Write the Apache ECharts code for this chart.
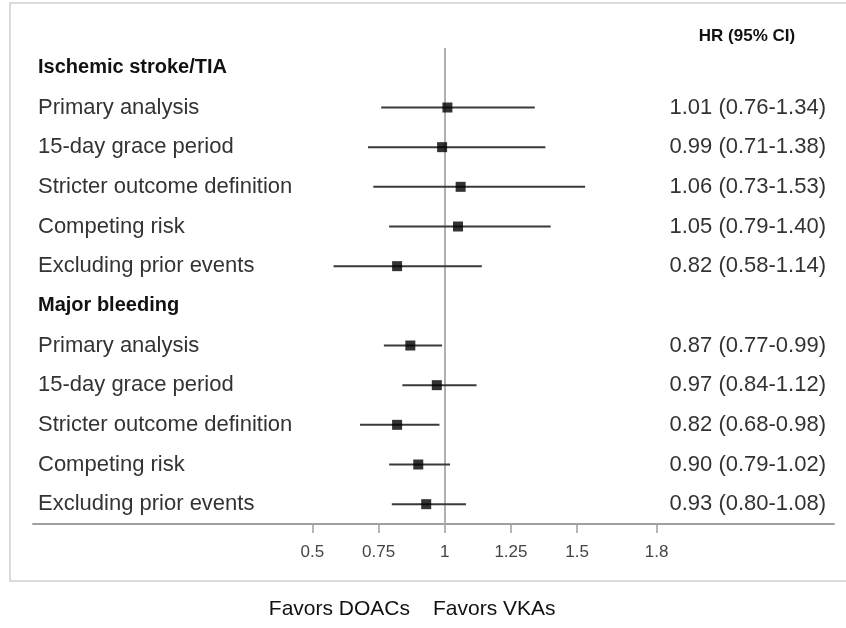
<!DOCTYPE html>
<html>
<head>
<meta charset="utf-8">
<script src="https://cdn.jsdelivr.net/npm/echarts@6/dist/echarts.min.js"></script>
<style>
html,body{margin:0;padding:0;background:#fff;}
#chart{width:846px;height:628px;}
</style>
</head>
<body>
<div id="chart"></div>
<script>
const rowLabels = [
  'Ischemic stroke/TIA',
  'Primary analysis',
  '15-day grace period',
  'Stricter outcome definition',
  'Competing risk',
  'Excluding prior events',
  'Major bleeding',
  'Primary analysis',
  '15-day grace period',
  'Stricter outcome definition',
  'Competing risk',
  'Excluding prior events'
];
const headerRows = [0, 6];
const hrValues = [null, 1.01, 0.99, 1.06, 1.05, 0.82, null, 0.87, 0.97, 0.82, 0.90, 0.93];
const ciLow    = [null, 0.76, 0.71, 0.73, 0.79, 0.58, null, 0.77, 0.84, 0.68, 0.79, 0.80];
const ciHigh   = [null, 1.34, 1.38, 1.53, 1.40, 1.14, null, 0.99, 1.12, 0.98, 1.02, 1.08];
const xTickValues = [0.5, 0.75, 1, 1.25, 1.5, 1.8];
const columnHeader = 'HR (95% CI)';
const favorsLeft = 'Favors DOACs';
const favorsRight = 'Favors VKAs';

const rightLabels = hrValues.map((v, i) =>
  v == null ? '' : v.toFixed(2) + ' (' + ciLow[i].toFixed(2) + '-' + ciHigh[i].toFixed(2) + ')');

const pointData = [];
const ciData = [];
hrValues.forEach((v, i) => {
  if (v != null) {
    pointData.push([v, i]);
    ciData.push([ciLow[i], i, ciHigh[i]]);
  }
});

const chart = echarts.init(document.getElementById('chart'));
const FONT = "'Liberation Sans', Arial, sans-serif";

chart.setOption({
  backgroundColor: '#fff',
  animation: false,
  grid: { left: 33, right: 12, top: 48, bottom: 104 },
  xAxis: {
    type: 'value',
    min: -0.555,
    max: 2.47,
    axisLine: { show: true, lineStyle: { color: '#a0a0a0', width: 2 } },
    axisTick: { show: true, customValues: xTickValues, length: 9, lineStyle: { color: '#a0a0a0', width: 1.5 } },
    axisLabel: { customValues: xTickValues, margin: 20, fontSize: 17, color: '#444', fontFamily: FONT },
    splitLine: { show: false }
  },
  yAxis: [{
    type: 'category',
    inverse: true,
    data: rowLabels,
    axisLine: { show: false },
    axisTick: { show: false },
    splitLine: { show: false },
    axisLabel: {
      inside: true,
      margin: 5,
      interval: 0,
      formatter: (val, idx) => headerRows.indexOf(idx) >= 0 ? '{h|' + val + '}' : '{n|' + val + '}',
      rich: {
        h: { fontSize: 20, fontWeight: 'bold', color: '#111', fontFamily: FONT },
        n: { fontSize: 22, color: '#333', fontFamily: FONT }
      }
    }
  }, {
    type: 'category',
    inverse: true,
    position: 'right',
    data: rightLabels,
    axisLine: { show: false },
    axisTick: { show: false },
    splitLine: { show: false },
    axisLabel: { inside: true, margin: 8, interval: 0, fontSize: 22, color: '#333', fontFamily: FONT }
  }],
  graphic: [
    { type: 'rect', shape: { x: 10, y: 3, width: 860, height: 578 }, style: { fill: 'none', stroke: '#d0d0d0', lineWidth: 1.5 }, z: -1 },
    { type: 'text', x: 747, y: 36, style: { text: columnHeader, fontSize: 17, fontWeight: 'bold', fill: '#111', fontFamily: FONT, textAlign: 'center', textVerticalAlign: 'middle' } },
    { type: 'text', x: 410, y: 609, style: { text: favorsLeft, fontSize: 21, fill: '#111', fontFamily: FONT, textAlign: 'right', textVerticalAlign: 'middle' } },
    { type: 'text', x: 433, y: 609, style: { text: favorsRight, fontSize: 21, fill: '#111', fontFamily: FONT, textAlign: 'left', textVerticalAlign: 'middle' } }
  ],
  series: [{
    type: 'custom',
    yAxisIndex: 0,
    encode: { x: [0, 2], y: 1 },
    data: ciData,
    z: 3,
    renderItem: function (params, api) {
      const a = api.coord([api.value(0), api.value(1)]);
      const b = api.coord([api.value(2), api.value(1)]);
      return { type: 'line', shape: { x1: a[0], y1: a[1], x2: b[0], y2: b[1] }, style: { stroke: '#3a3a3a', lineWidth: 2 } };
    }
  }, {
    type: 'scatter',
    yAxisIndex: 0,
    data: pointData,
    symbol: 'rect',
    symbolSize: 10,
    itemStyle: { color: '#000' },
    z: 4,
    markLine: {
      silent: true,
      symbol: 'none',
      label: { show: false },
      lineStyle: { color: '#b0b0b0', width: 2, type: 'solid' },
      data: [{ xAxis: 1 }],
      z: 2
    }
  }]
});
</script>
</body>
</html>
